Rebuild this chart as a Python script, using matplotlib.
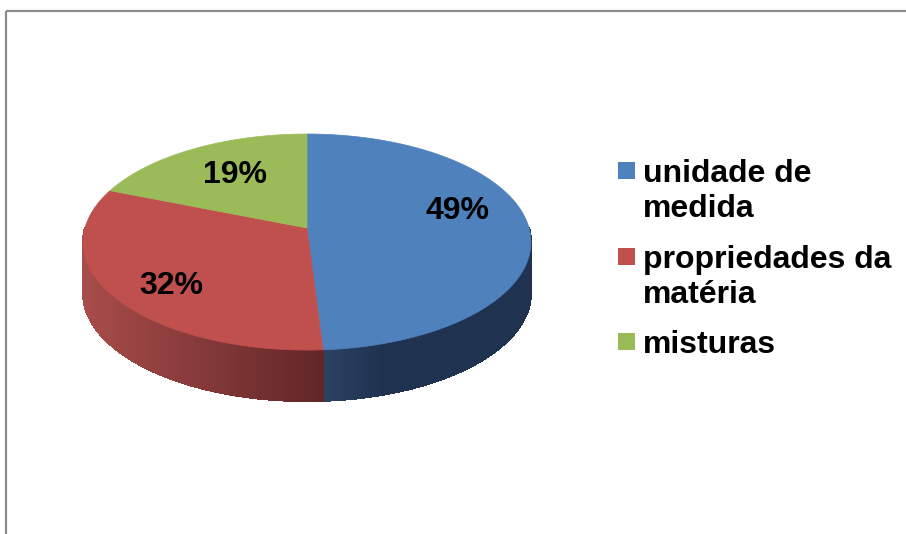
import numpy as np
import matplotlib
matplotlib.use("Agg")
import matplotlib.pyplot as plt
from matplotlib.patches import Polygon, Rectangle
from matplotlib.colors import to_rgb

categories = ["unidade de\nmedida", "propriedades da\nmatéria", "misturas"]
values = [49, 32, 19]
labels = ["49%", "32%", "19%"]
top_colors = ["#4f81bd", "#c0504d", "#9bbb59"]
side_left = ["#2b4262", "#a84d4a", "#7a9444"]
side_right = ["#1f3250", "#622628", "#5a6e30"]

W, H = 906, 534
fig = plt.figure(figsize=(W / 100, H / 100), dpi=100)
ax = fig.add_axes([0, 0, 1, 1])
ax.set_xlim(0, W)
ax.set_ylim(H, 0)
ax.axis("off")

FONT = ["Liberation Sans", "DejaVu Sans"]

# chart border
ax.plot([5.5, 5.5], [534, 10.5], color="#8c8c8c", lw=1.6, solid_capstyle="butt")
ax.plot([5.5, 906], [10.5, 10.5], color="#8c8c8c", lw=1.6, solid_capstyle="butt")

# perspective-projected pie disc
cx, cy, R, S, K, depth = 307, 228, 222, 106.2, 0.13, 51

def pt(theta_deg):
    t = np.deg2rad(theta_deg)
    w = 1 + K * np.sin(t)
    return cx + R * np.cos(t) / w, cy - S * np.sin(t) / w

fracs = np.array(values) / np.sum(values)
starts = 90 - 360 * np.concatenate([[0], np.cumsum(fracs)[:-1]])
ends = starts - 360 * fracs

# side walls: front half theta in (-180, 0)
strips = []
for i in range(len(values)):
    lo, hi = ends[i], starts[i]
    for off in (0, -360, 360):
        l2 = max(lo, -180 + off)
        h2 = min(hi, 0 + off)
        if h2 > l2:
            n = max(4, int((h2 - l2) * 2))
            ths = np.linspace(h2, l2, n + 1)
            for k in range(n):
                strips.append((i, ths[k], ths[k + 1]))

# boundary x between red and blue side for the gradient
xb = pt(ends[0])[0]
x_left = cx - R * 1.01
strips.sort(key=lambda s: -np.sin(np.deg2rad((s[1] + s[2]) / 2)))
for i, t0, t1 in strips:
    x0, y0 = pt(t0)
    x1, y1 = pt(t1)
    xm = (x0 + x1) / 2
    cl, cr = np.array(to_rgb(side_left[i])), np.array(to_rgb(side_right[i]))
    if i == 0:
        f = np.clip((xm - xb) / 60.0, 0, 1)
    else:
        f = np.clip((xm - x_left) / (xb - x_left), 0, 1)
    col = cl + (cr - cl) * f
    poly = Polygon([[x0, y0], [x1, y1], [x1, y1 + depth], [x0, y0 + depth]],
                   closed=True, facecolor=col, edgecolor=col, lw=0.8, antialiased=False)
    ax.add_patch(poly)

# top faces
for i in range(len(values)):
    ths = np.linspace(starts[i], ends[i], 300)
    pts = [pt(t) for t in ths]
    poly = Polygon([[cx, cy]] + pts, closed=True, facecolor=top_colors[i],
                   edgecolor=top_colors[i], lw=0.5)
    ax.add_patch(poly)

# data labels
label_pos = [(458, 211), (171, 286), (235, 175)]
for (x, y), lab in zip(label_pos, labels):
    ax.text(x, y, lab, ha="center", va="center", fontsize=23, fontweight="bold",
            family=FONT, color="black")

# legend (baselines of first line of each entry)
leg_base = [182, 268, 353]
line_step = 35
for i, cat in enumerate(categories):
    yb = leg_base[i]
    ax.add_patch(Rectangle((618, yb - 20), 16.5, 16.5, facecolor=top_colors[i],
                           edgecolor="none"))
    for j, line in enumerate(cat.split("\n")):
        ax.text(643, yb + j * line_step, line, ha="left", va="baseline", fontsize=23,
                fontweight="bold", family=FONT, color="black")

fig.savefig("out.png", dpi=100)
